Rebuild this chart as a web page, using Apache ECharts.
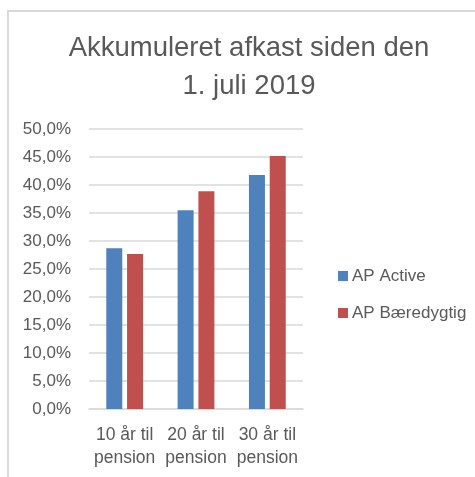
<!DOCTYPE html>
<html>
<head>
<meta charset="utf-8">
<script src="https://cdn.jsdelivr.net/npm/echarts@6/dist/echarts.min.js"></script>
<style>
  html, body { margin: 0; padding: 0; background: #fff; }
  #chart { width: 475px; height: 477px; }
</style>
</head>
<body>
<div id="chart"></div>
<script>
const categories = ['10 år til\npension', '20 år til\npension', '30 år til\npension']
const apActive = [28.7, 35.5, 41.8]
const apBaeredygtig = [27.7, 38.9, 45.2]
const seriesNames = ['AP Active', 'AP Bæredygtig']

const font = 'Liberation Sans'
const textColor = '#595959'

let myChart = echarts.init(document.getElementById('chart'))
let option = {
  animation: false,
  textStyle: { fontFamily: font },
  color: ['#4f81bd', '#c0504d'],
  title: {
    text: 'Akkumuleret afkast siden den\n1. juli 2019',
    left: 249,
    top: 29,
    padding: 0,
    textAlign: 'center',
    textStyle: {
      fontFamily: font,
      fontSize: 27.5,
      fontWeight: 'normal',
      color: textColor,
      lineHeight: 38
    }
  },
  graphic: [
    {
      type: 'rect',
      shape: { x: 8, y: 11, width: 520, height: 520 },
      style: { fill: 'none', stroke: '#d9d9d9', lineWidth: 2 },
      silent: true
    }
  ],
  legend: {
    data: seriesNames,
    orient: 'vertical',
    left: 338,
    top: 266,
    padding: 0,
    itemWidth: 10,
    itemHeight: 10,
    itemGap: 17,
    icon: 'rect',
    textStyle: { fontFamily: font, fontSize: 17, color: textColor, lineHeight: 20, padding: [0, 0, 0, -1] }
  },
  grid: {
    left: 89,
    right: 172,
    top: 129,
    bottom: 68,
    outerBoundsMode: 'none'
  },
  xAxis: {
    type: 'category',
    data: categories,
    axisLine: { lineStyle: { color: '#d9d9d9', width: 1.5 } },
    axisTick: { show: false },
    axisLabel: {
      interval: 0,
      hideOverlap: false,
      fontFamily: font,
      fontSize: 17.5,
      color: textColor,
      lineHeight: 23,
      margin: 15
    }
  },
  yAxis: {
    type: 'value',
    min: 0,
    max: 50,
    interval: 5,
    axisLine: { show: false },
    axisTick: { show: false },
    splitLine: { lineStyle: { color: '#d9d9d9', width: 1.5 } },
    axisLabel: {
      fontFamily: font,
      fontSize: 17,
      color: textColor,
      margin: 18,
      formatter: v => v.toFixed(1).replace('.', ',') + '%'
    }
  },
  series: [
    {
      name: seriesNames[0],
      type: 'bar',
      data: apActive,
      barWidth: 16,
      barGap: '30%'
    },
    {
      name: seriesNames[1],
      type: 'bar',
      data: apBaeredygtig,
      barWidth: 16,
      barGap: '30%'
    }
  ]
}
myChart.setOption(option)
</script>
</body>
</html>
